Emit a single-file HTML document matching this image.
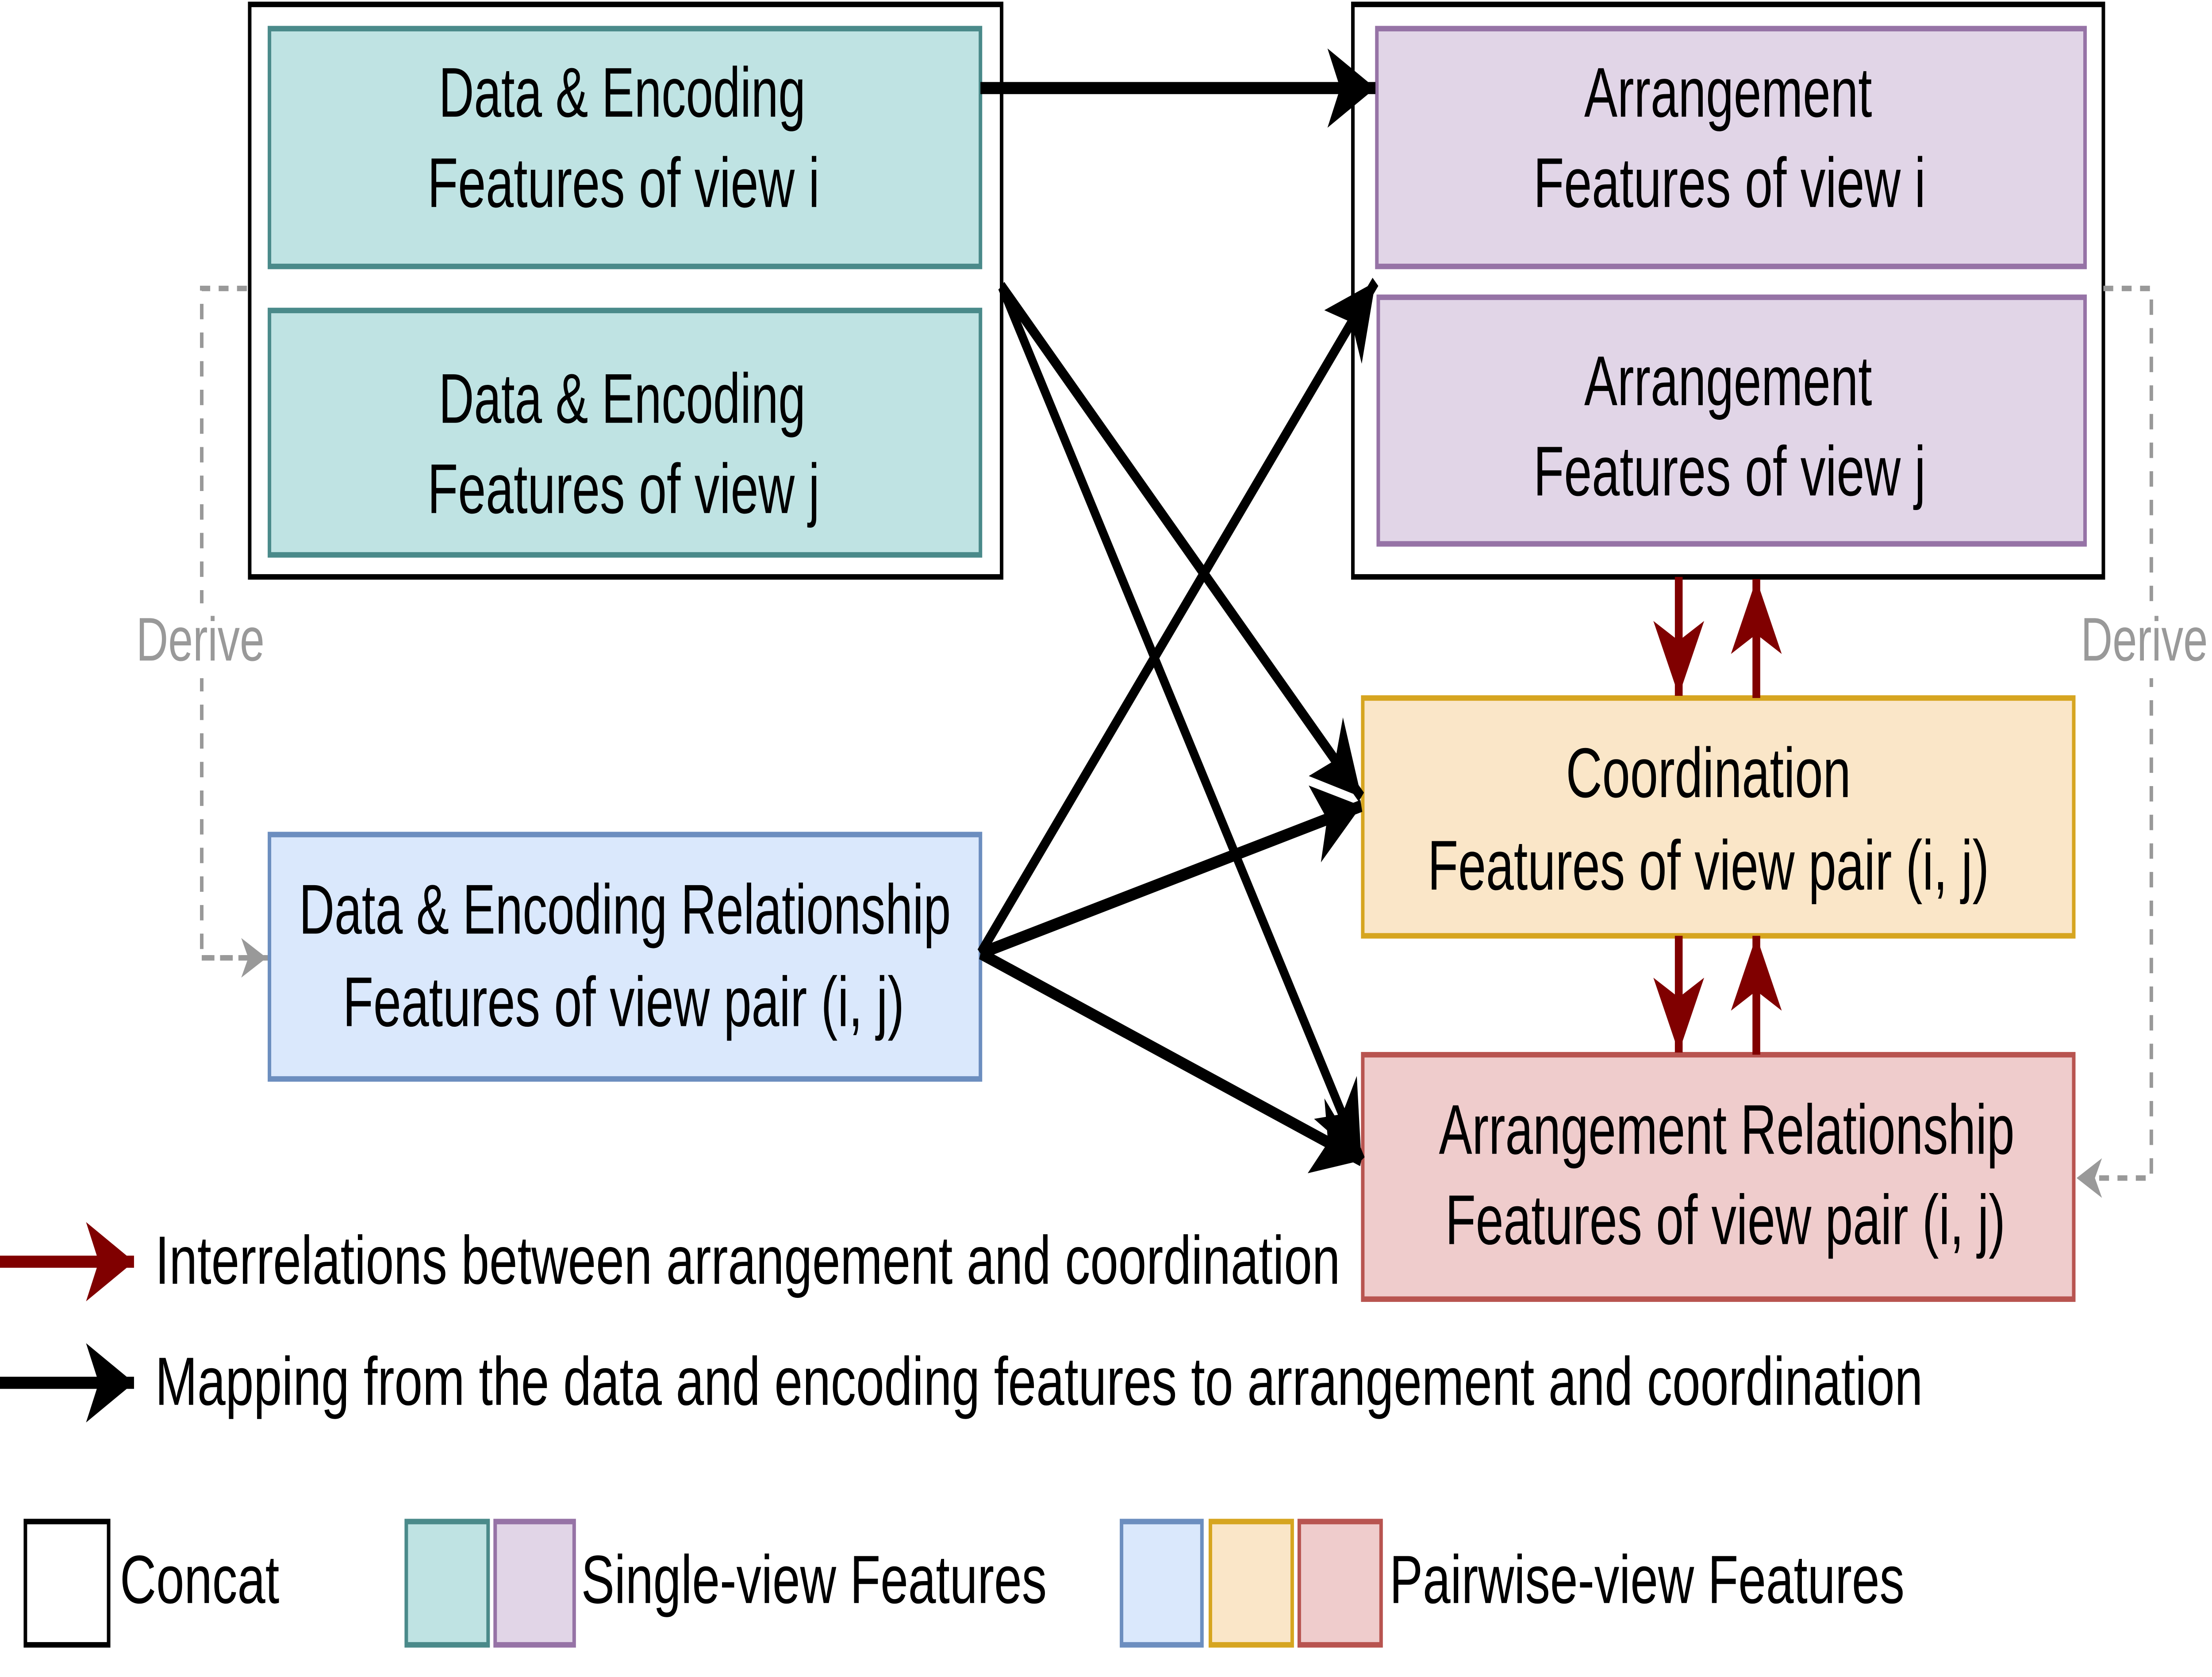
<!DOCTYPE html>
<html><head><meta charset="utf-8"><style>html,body{margin:0;padding:0;background:#fff;width:100%;height:100%;overflow:hidden}svg{display:block;width:100vw;height:100vh}</style></head>
<body>
<svg viewBox="0 0 1568 761.6" preserveAspectRatio="none" xmlns="http://www.w3.org/2000/svg" font-family="'Liberation Sans', sans-serif">
<defs>
<marker id="ab" markerUnits="userSpaceOnUse" markerWidth="40" markerHeight="40" refX="34" refY="18" orient="auto" viewBox="0 0 40 36">
<path d="M0,0 L34,18 L0,36 L9,18 Z" fill="#000"/></marker>
<marker id="ar" markerUnits="userSpaceOnUse" markerWidth="40" markerHeight="40" refX="34" refY="18" orient="auto" viewBox="0 0 40 36">
<path d="M0,0 L34,18 L0,36 L9,18 Z" fill="#800000"/></marker>
<marker id="ag" markerUnits="userSpaceOnUse" markerWidth="20" markerHeight="20" refX="18" refY="9" orient="auto" viewBox="0 0 20 18">
<path d="M0,0 L18,9 L0,18 L5,9 Z" fill="#999"/></marker>
</defs>
<rect width="1568" height="762" fill="#fff"/>
<rect x="177" y="2" width="533" height="260" fill="#fff" stroke="#000" stroke-width="2.5"/>
<rect x="959" y="2" width="532" height="260" fill="#fff" stroke="#000" stroke-width="2.5"/>
<path d="M191,435 H143 V131 H177" fill="none" stroke="#999" stroke-width="2.5" stroke-dasharray="7,6"/>
<path d="M143,435 H189" fill="none" stroke="#999" stroke-width="2.5" stroke-dasharray="7,6" marker-end="url(#ag)"/>
<path d="M1491,131 H1525 V535 H1472" fill="none" stroke="#999" stroke-width="2.5" stroke-dasharray="7,6" marker-end="url(#ag)"/>
<rect x="95" y="274" width="95" height="34" fill="#fff"/>
<text x="142" y="300" font-size="28" fill="#999" text-anchor="middle" textLength="91" lengthAdjust="spacingAndGlyphs">Derive</text>
<rect x="1472" y="274" width="95" height="34" fill="#fff"/>
<text x="1520" y="300" font-size="28" fill="#999" text-anchor="middle" textLength="90" lengthAdjust="spacingAndGlyphs">Derive</text>
<g stroke-width="2.5" font-size="32" text-anchor="middle" fill="#000" lengthAdjust="spacingAndGlyphs">
<rect x="191" y="13" width="504" height="108" fill="#bfe3e3" stroke="#4a8a8a"/>
<text x="441" y="53" textLength="260" lengthAdjust="spacingAndGlyphs">Data &amp; Encoding</text><text x="442" y="94" textLength="278" lengthAdjust="spacingAndGlyphs">Features of view i</text>
<rect x="191" y="141" width="504" height="111" fill="#bfe3e3" stroke="#4a8a8a"/>
<text x="441" y="192" textLength="260" lengthAdjust="spacingAndGlyphs">Data &amp; Encoding</text><text x="442" y="233" textLength="278" lengthAdjust="spacingAndGlyphs">Features of view j</text>
<rect x="976" y="13" width="502" height="108" fill="#e1d5e7" stroke="#9673a6"/>
<text x="1225" y="53" textLength="204" lengthAdjust="spacingAndGlyphs">Arrangement</text><text x="1226" y="94" textLength="278" lengthAdjust="spacingAndGlyphs">Features of view i</text>
<rect x="977" y="135" width="501" height="112" fill="#e1d5e7" stroke="#9673a6"/>
<text x="1225" y="184" textLength="204" lengthAdjust="spacingAndGlyphs">Arrangement</text><text x="1226" y="225" textLength="278" lengthAdjust="spacingAndGlyphs">Features of view j</text>
<rect x="966" y="317" width="504" height="108" fill="#fae6c8" stroke="#d6a520"/>
<text x="1211" y="362" textLength="202" lengthAdjust="spacingAndGlyphs">Coordination</text><text x="1211" y="404" textLength="398" lengthAdjust="spacingAndGlyphs">Features of view pair (i, j)</text>
<rect x="966" y="479" width="504" height="111" fill="#efcccc" stroke="#b85450"/>
<text x="1224" y="524" textLength="408" lengthAdjust="spacingAndGlyphs">Arrangement Relationship</text><text x="1223" y="565" textLength="397" lengthAdjust="spacingAndGlyphs">Features of view pair (i, j)</text>
<rect x="191" y="379" width="504" height="111" fill="#dae8fc" stroke="#6c8ebf"/>
<text x="443" y="424" textLength="462" lengthAdjust="spacingAndGlyphs">Data &amp; Encoding Relationship</text><text x="442" y="466" textLength="398" lengthAdjust="spacingAndGlyphs">Features of view pair (i, j)</text>
</g>
<g stroke="#000" stroke-width="5.5" fill="none" marker-end="url(#ab)">
<path d="M695,40 H975"/>
<path d="M710,130 L965,362"/>
<path d="M710,130 L965,527"/>
<path d="M695,433 L975,128"/>
<path d="M695,433 L965,366"/>
<path d="M695,433 L965,527"/>
</g>
<g stroke="#800000" stroke-width="5.5" fill="none" marker-end="url(#ar)">
<path d="M1190,262 V316"/>
<path d="M1245,317 V263"/>
<path d="M1190,425 V478"/>
<path d="M1245,479 V425"/>
</g>
<path d="M0,573 H95" stroke="#800000" stroke-width="5.5" marker-end="url(#ar)"/>
<text x="110" y="583" font-size="31" textLength="840" lengthAdjust="spacingAndGlyphs">Interrelations between arrangement and coordination</text>
<path d="M0,628 H95" stroke="#000" stroke-width="5.5" marker-end="url(#ab)"/>
<text x="110" y="638" font-size="31" textLength="1253" lengthAdjust="spacingAndGlyphs">Mapping from the data and encoding features to arrangement and coordination</text>
<g stroke-width="2.5">
<rect x="18" y="691" width="59" height="56" fill="#fff" stroke="#000"/>
<rect x="288" y="691" width="58" height="56" fill="#bfe3e3" stroke="#4a8a8a"/>
<rect x="351" y="691" width="56" height="56" fill="#e1d5e7" stroke="#9673a6"/>
<rect x="795" y="691" width="57" height="56" fill="#dae8fc" stroke="#6c8ebf"/>
<rect x="858" y="691" width="58" height="56" fill="#fae6c8" stroke="#d6a520"/>
<rect x="921" y="691" width="58" height="56" fill="#efcccc" stroke="#b85450"/>
</g>
<text x="85" y="728" font-size="31" textLength="113" lengthAdjust="spacingAndGlyphs">Concat</text>
<text x="412" y="728" font-size="31" textLength="330" lengthAdjust="spacingAndGlyphs">Single-view Features</text>
<text x="985" y="728" font-size="31" textLength="365" lengthAdjust="spacingAndGlyphs">Pairwise-view Features</text>
</svg>
</body></html>
